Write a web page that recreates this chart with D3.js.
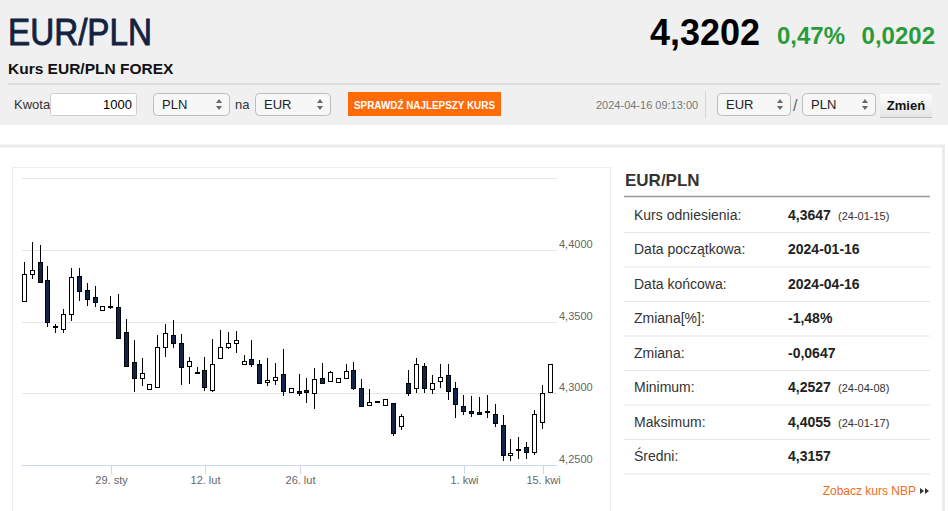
<!DOCTYPE html>
<html>
<head>
<meta charset="utf-8">
<script src="https://cdn.jsdelivr.net/npm/d3@7"></script>
<style>
  body { margin: 0; background: #fff; }
  svg { display: block; font-family: "Liberation Sans", Arial, sans-serif; }
</style>
</head>
<body>
<svg id="page" width="948" height="511"></svg>
<script>
// EUR/PLN quote page -- candlestick chart + summary table

///////////////////////////////////////////////////////////////////////////////
// Data

var dates = [
  "2024-01-16", "2024-01-17", "2024-01-18", "2024-01-19", "2024-01-21", "2024-01-22",
  "2024-01-23", "2024-01-24", "2024-01-25", "2024-01-26", "2024-01-28", "2024-01-29",
  "2024-01-30", "2024-01-31", "2024-02-01", "2024-02-02", "2024-02-04", "2024-02-05",
  "2024-02-06", "2024-02-07", "2024-02-08", "2024-02-09", "2024-02-11", "2024-02-12",
  "2024-02-13", "2024-02-14", "2024-02-15", "2024-02-16", "2024-02-18", "2024-02-19",
  "2024-02-20", "2024-02-21", "2024-02-22", "2024-02-23", "2024-02-25", "2024-02-26",
  "2024-02-27", "2024-02-28", "2024-02-29", "2024-03-01", "2024-03-04", "2024-03-05",
  "2024-03-06", "2024-03-07", "2024-03-11", "2024-03-12", "2024-03-13", "2024-03-14",
  "2024-03-18", "2024-03-19", "2024-03-20", "2024-03-21", "2024-03-25", "2024-03-26",
  "2024-03-27", "2024-03-28", "2024-04-01", "2024-04-02", "2024-04-03", "2024-04-04",
  "2024-04-05", "2024-04-08", "2024-04-09", "2024-04-10", "2024-04-11", "2024-04-12",
  "2024-04-15", "2024-04-16"
];

var open = [
  4.3644, 4.3831, 4.3914, 4.3791, 4.3472, 4.3451, 4.3554, 4.3819, 4.3721, 4.3670,
  4.3580, 4.3610, 4.3603, 4.3426, 4.3217, 4.3106, 4.3033, 4.3047, 4.3322, 4.3408,
  4.3350, 4.3194, 4.3147, 4.3164, 4.3020, 4.3245, 4.3322, 4.3354, 4.3207, 4.3238,
  4.3205, 4.3078, 4.3094, 4.3136, 4.3010, 4.3019, 4.3022, 4.3000, 4.3106, 4.3087,
  4.3080, 4.3110, 4.3161, 4.3040, 4.2922, 4.2949, 4.2920, 4.2931, 4.2773, 4.3071,
  4.3036, 4.3194, 4.3031, 4.3087, 4.3131, 4.3034, 4.2915, 4.2880, 4.2868, 4.2878,
  4.2857, 4.2780, 4.2569, 4.2613, 4.2624, 4.2590, 4.2803, 4.3011
];

var high = [
  4.3914, 4.4055, 4.4035, 4.3888, 4.3482, 4.3589, 4.3872, 4.3872, 4.3772, 4.3751,
  4.3608, 4.3679, 4.3691, 4.3517, 4.3373, 4.3249, 4.3066, 4.3408, 4.3482, 4.3512,
  4.3412, 4.3252, 4.3187, 4.3256, 4.3378, 4.3442, 4.3428, 4.3437, 4.3266, 4.3373,
  4.3233, 4.3245, 4.3210, 4.3308, 4.3040, 4.3134, 4.3106, 4.3175, 4.3210, 4.3159,
  4.3106, 4.3203, 4.3221, 4.3098, 4.3031, 4.2949, 4.2959, 4.2931, 4.2857, 4.3164,
  4.3245, 4.3210, 4.3129, 4.3205, 4.3205, 4.3080, 4.2989, 4.2982, 4.2973, 4.2989,
  4.2927, 4.2850, 4.2680, 4.2694, 4.2663, 4.2885, 4.3059, 4.3203
];

var low = [
  4.3644, 4.3796, 4.3779, 4.3465, 4.3424, 4.3419, 4.3505, 4.3642, 4.3612, 4.3600,
  4.3580, 4.3591, 4.3385, 4.3194, 4.3008, 4.3052, 4.3033, 4.3047, 4.3252, 4.3315,
  4.3059, 4.3066, 4.3145, 4.3019, 4.3008, 4.3245, 4.3310, 4.3280, 4.3198, 4.3187,
  4.3075, 4.3052, 4.3059, 4.2978, 4.3008, 4.2982, 4.2931, 4.2894, 4.3075, 4.3086,
  4.3080, 4.3110, 4.3024, 4.2908, 4.2922, 4.2940, 4.2920, 4.2703, 4.2745, 4.2982,
  4.3001, 4.3001, 4.2994, 4.3036, 4.2954, 4.2827, 4.2850, 4.2838, 4.2850, 4.2827,
  4.2764, 4.2531, 4.2531, 4.2541, 4.2541, 4.2571, 4.2750, 4.3011
];

var close = [
  4.3831, 4.3858, 4.3779, 4.3500, 4.3468, 4.3552, 4.3810, 4.3716, 4.3656, 4.3635,
  4.3608, 4.3607, 4.3385, 4.3194, 4.3106, 4.3140, 4.3066, 4.3326, 4.3419, 4.3350,
  4.3187, 4.3228, 4.3145, 4.3043, 4.3204, 4.3322, 4.3352, 4.3373, 4.3226, 4.3203,
  4.3075, 4.3094, 4.3113, 4.3017, 4.3038, 4.3005, 4.3008, 4.3098, 4.3075, 4.3148,
  4.3106, 4.3155, 4.3040, 4.2915, 4.2938, 4.2940, 4.2959, 4.2722, 4.2843, 4.3001,
  4.3204, 4.3036, 4.3071, 4.3115, 4.3019, 4.2924, 4.2880, 4.2862, 4.2855, 4.2870,
  4.2796, 4.2571, 4.2583, 4.2609, 4.2594, 4.2855, 4.3001, 4.3202
];

var yTicks = [4.25, 4.30, 4.35, 4.40, 4.45];
var tickDates = ["2024-01-29", "2024-02-12", "2024-02-26", "2024-04-01", "2024-04-15"];
var monthNames = ["sty", "lut", "mar", "kwi", "maj", "cze", "lip", "sie", "wrz", "paź", "lis", "gru"];

var statLabels = ["Kurs odniesienia:", "Data początkowa:", "Data końcowa:", "Zmiana[%]:",
                  "Zmiana:", "Minimum:", "Maksimum:", "Średni:"];
var statValues = ["4,3647", "2024-01-16", "2024-04-16", "-1,48%",
                  "-0,0647", "4,2527", "4,4055", "4,3157"];
var statNotes = ["(24-01-15)", "", "", "", "", "(24-04-08)", "(24-01-17)", ""];

var pairName = "EUR/PLN";
var lastRate = "4,3202";
var changePct = "0,47%";
var changeAbs = "0,0202";
var quoteTime = "2024-04-16 09:13:00";

var svg = d3.select("#page");

///////////////////////////////////////////////////////////////////////////////
// Header

svg.append("rect").attr("width", 948).attr("height", 125).attr("fill", "#f0f0f0");

// title is a narrow, medium-weight face: squeeze and thicken regular
svg.append("text").attr("x", 8).attr("y", 44.5)
  .attr("font-size", 36.5).attr("fill", "#13223f")
  .attr("stroke", "#13223f").attr("stroke-width", 0.9)
  .attr("textLength", 144).attr("lengthAdjust", "spacingAndGlyphs")
  .text(pairName);

svg.append("text").attr("x", 8).attr("y", 74)
  .attr("font-size", 15.5).attr("font-weight", "bold").attr("fill", "#111")
  .text("Kurs " + pairName + " FOREX");

svg.append("text").attr("x", 760).attr("y", 45).attr("text-anchor", "end")
  .attr("font-size", 36).attr("font-weight", "bold").attr("fill", "#000")
  .text(lastRate);

svg.append("text").attr("x", 777).attr("y", 44)
  .attr("font-size", 24).attr("font-weight", "bold").attr("fill", "#2a9b3b")
  .text(changePct);

svg.append("text").attr("x", 935).attr("y", 44).attr("text-anchor", "end")
  .attr("font-size", 24).attr("font-weight", "bold").attr("fill", "#2a9b3b")
  .text(changeAbs);

svg.append("line").attr("x1", 8).attr("x2", 940).attr("y1", 84).attr("y2", 84)
  .attr("stroke", "#dcdcdc").attr("stroke-width", 2);

// converter controls
var drawSelect = function (x, w, label) {
  svg.append("rect").attr("x", x + 0.5).attr("y", 93.5).attr("width", w).attr("height", 22)
    .attr("rx", 4).attr("fill", "#f7f7f7").attr("stroke", "#bdbdbd");
  svg.append("text").attr("x", x + 9).attr("y", 108.5)
    .attr("font-size", 13).attr("fill", "#222").text(label);
  var ax = x + w - 10;
  svg.append("path").attr("d", "M" + (ax - 3) + ",103 L" + (ax + 3) + ",103 L" + ax + ",99 Z")
    .attr("fill", "#666");
  svg.append("path").attr("d", "M" + (ax - 3) + ",106 L" + (ax + 3) + ",106 L" + ax + ",110 Z")
    .attr("fill", "#666");
};

svg.append("text").attr("x", 14).attr("y", 109)
  .attr("font-size", 13).attr("fill", "#333").text("Kwota");
svg.append("rect").attr("x", 50.5).attr("y", 93.5).attr("width", 86).attr("height", 22)
  .attr("rx", 2).attr("fill", "#fff").attr("stroke", "#cfcfcf");
svg.append("text").attr("x", 132).attr("y", 109).attr("text-anchor", "end")
  .attr("font-size", 13).attr("fill", "#000").text("1000");

drawSelect(153, 76, "PLN");
svg.append("text").attr("x", 235).attr("y", 109)
  .attr("font-size", 13).attr("fill", "#333").text("na");
drawSelect(255, 75, "EUR");

svg.append("rect").attr("x", 348).attr("y", 92).attr("width", 153).attr("height", 24)
  .attr("fill", "#ff6b08");
svg.append("text").attr("x", 424.5).attr("y", 108.5).attr("text-anchor", "middle")
  .attr("font-size", 11).attr("font-weight", "bold").attr("fill", "#fff")
  .attr("textLength", 141).attr("lengthAdjust", "spacingAndGlyphs")
  .text("SPRAWDŹ NAJLEPSZY KURS");

svg.append("text").attr("x", 596).attr("y", 108.5)
  .attr("font-size", 11).attr("fill", "#777").text(quoteTime);
svg.append("line").attr("x1", 705.5).attr("x2", 705.5).attr("y1", 91).attr("y2", 118)
  .attr("stroke", "#d6d6d6");

drawSelect(717, 73, "EUR");
svg.append("text").attr("x", 793).attr("y", 111)
  .attr("font-size", 16).attr("fill", "#666").text("/");
drawSelect(802, 73, "PLN");

var grad = svg.append("defs").append("linearGradient").attr("id", "btn")
  .attr("x1", 0).attr("x2", 0).attr("y1", 0).attr("y2", 1);
grad.append("stop").attr("offset", 0).attr("stop-color", "#fdfdfd");
grad.append("stop").attr("offset", 1).attr("stop-color", "#e4e4e4");
svg.append("rect").attr("x", 880).attr("y", 95).attr("width", 52).attr("height", 23)
  .attr("fill", "#bdbdbd");
svg.append("rect").attr("x", 880).attr("y", 94).attr("width", 52).attr("height", 23)
  .attr("fill", "url(#btn)");
svg.append("text").attr("x", 906).attr("y", 110).attr("text-anchor", "middle")
  .attr("font-size", 13).attr("font-weight", "bold").attr("fill", "#111").text("Zmień");

///////////////////////////////////////////////////////////////////////////////
// Content box

svg.append("line").attr("x1", 0).attr("x2", 945).attr("y1", 146).attr("y2", 146)
  .attr("stroke", "#ebebeb").attr("stroke-width", 3);
svg.append("line").attr("x1", 943.5).attr("x2", 943.5).attr("y1", 146).attr("y2", 511)
  .attr("stroke", "#ebebeb").attr("stroke-width", 3);
svg.append("rect").attr("x", 12.5).attr("y", 167.5).attr("width", 598).attr("height", 360)
  .attr("fill", "#fff").attr("stroke", "#ececec");

///////////////////////////////////////////////////////////////////////////////
// Candlestick chart

var x = d3.scaleBand().domain(dates).range([21, 554.5]);
var y = d3.scaleLinear().domain([4.25, 4.45]).range([465, 178.3]);
var cx = function (d) { return Math.round(x(d) + x.bandwidth() / 2); };
var fmt = function (v) { return d3.format(".4f")(v).replace(".", ","); };
var parse = d3.timeParse("%Y-%m-%d");

var chart = svg.append("g");

chart.selectAll("line.grid").data(yTicks.slice(1)).enter().append("line")
  .attr("class", "grid")
  .attr("x1", 22).attr("x2", 557)
  .attr("y1", function (d) { return Math.round(y(d)) + 0.5; })
  .attr("y2", function (d) { return Math.round(y(d)) + 0.5; })
  .attr("stroke", "#e6e6e6");

chart.selectAll("text.ylab").data(yTicks.slice(0, 4)).enter().append("text")
  .attr("class", "ylab")
  .attr("x", 559).attr("y", function (d) { return y(d) - 2; })
  .attr("font-size", 11).attr("fill", "#666")
  .text(fmt);

// x axis line + ticks
chart.append("line").attr("x1", 22).attr("x2", 557).attr("y1", 465.5).attr("y2", 465.5)
  .attr("stroke", "#ccd6eb");

chart.selectAll("line.xtick").data(tickDates).enter().append("line")
  .attr("class", "xtick")
  .attr("x1", function (d) { return cx(d) + 0.5; })
  .attr("x2", function (d) { return cx(d) + 0.5; })
  .attr("y1", 465).attr("y2", 474)
  .attr("stroke", "#ccd6eb");

chart.selectAll("text.xlab").data(tickDates).enter().append("text")
  .attr("class", "xlab")
  .attr("x", function (d) { return cx(d) + 0.5; }).attr("y", 484)
  .attr("text-anchor", "middle").attr("font-size", 11).attr("fill", "#666")
  .text(function (d) {
    var dt = parse(d);
    return dt.getDate() + ". " + monthNames[dt.getMonth()];
  });

// candles
var candles = chart.selectAll("g.candle").data(dates).enter().append("g")
  .attr("class", "candle");

candles.append("line")
  .attr("x1", function (d) { return cx(d) - 0.5; })
  .attr("x2", function (d) { return cx(d) - 0.5; })
  .attr("y1", function (d, i) { return Math.round(y(high[i])); })
  .attr("y2", function (d, i) { return Math.round(y(low[i])); })
  .attr("stroke", "#000");

candles.append("rect")
  .attr("x", function (d) { return cx(d) - 2.5; })
  .attr("width", 4)
  .attr("y", function (d, i) { return Math.round(y(Math.max(open[i], close[i]))) + 0.5; })
  .attr("height", function (d, i) {
    var h = Math.round(y(Math.min(open[i], close[i]))) - Math.round(y(Math.max(open[i], close[i])));
    return Math.max(h, 1);
  })
  .attr("fill", function (d, i) { return close[i] >= open[i] ? "#fff" : "#102548"; })
  .attr("stroke", "#000");

///////////////////////////////////////////////////////////////////////////////
// Summary table

svg.append("text").attr("x", 625).attr("y", 186)
  .attr("font-size", 17).attr("font-weight", "bold").attr("fill", "#333")
  .text(pairName);
svg.append("line").attr("x1", 624).attr("x2", 930).attr("y1", 196.5).attr("y2", 196.5)
  .attr("stroke", "#999").attr("stroke-width", 1.5);

var rows = svg.selectAll("g.row").data(statLabels).enter().append("g")
  .attr("class", "row")
  .attr("transform", function (d, i) { return "translate(0," + (232 + i * 34.5) + ")"; });

rows.append("line").attr("x1", 624).attr("x2", 930).attr("y1", 0.5).attr("y2", 0.5)
  .attr("stroke", "#e6e6e6");
rows.append("text").attr("x", 634).attr("y", -12.5)
  .attr("font-size", 14).attr("fill", "#333")
  .text(function (d) { return d; });
rows.append("text").attr("x", 788).attr("y", -12.5)
  .attr("font-size", 14).attr("font-weight", "bold").attr("fill", "#222")
  .text(function (d, i) { return statValues[i]; });
rows.append("text").attr("x", 838).attr("y", -12.5)
  .attr("font-size", 11).attr("fill", "#333")
  .text(function (d, i) { return statNotes[i]; });

svg.append("text").attr("x", 916).attr("y", 495).attr("text-anchor", "end")
  .attr("font-size", 12).attr("fill", "#f26b21").text("Zobacz kurs NBP");
svg.append("path").attr("d", "M920,488 L924,491 L920,494 Z M925,488 L929,491 L925,494 Z")
  .attr("fill", "#333");
</script>
</body>
</html>
